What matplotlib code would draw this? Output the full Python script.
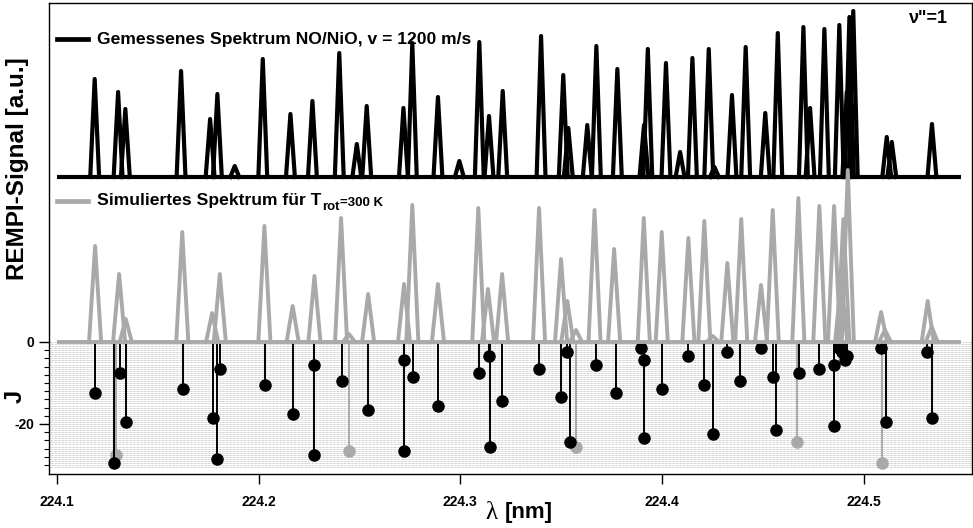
import numpy as np
import matplotlib.pyplot as plt

plt.rcParams.update({
    'font.family': ['Liberation Sans', 'DejaVu Sans'],
    'font.weight': 'bold',
    'axes.linewidth': 1.0,
})

# measured REMPI spectrum: peak positions (nm) and peak tops (a.u., baseline 1.65)
meas_base = 1.65
meas_pos = [224.1188, 224.1304, 224.1340, 224.1616, 224.1760, 224.1796, 224.1882,
            224.2021, 224.2158, 224.2267, 224.2400, 224.2487, 224.2536, 224.2718,
            224.2762, 224.2889, 224.2995, 224.3094, 224.3142, 224.3210, 224.3400,
            224.3510, 224.3535, 224.3629, 224.3674, 224.3778, 224.3910, 224.3929,
            224.4019, 224.4089, 224.4150, 224.4231, 224.4259, 224.4346, 224.4414,
            224.4511, 224.4573, 224.4700, 224.4733, 224.4804, 224.4878, 224.4915,
            224.4928, 224.4947, 224.5113, 224.5138, 224.5337]
meas_top = [2.63, 2.50, 2.33, 2.71, 2.23, 2.48, 1.76,
            2.83, 2.28, 2.41, 2.89, 1.98, 2.36, 2.34,
            2.99, 2.45, 1.81, 3.00, 2.26, 2.51, 3.06,
            2.67, 2.14, 2.17, 2.96, 2.73, 2.17, 2.93,
            2.79, 1.90, 2.84, 2.93, 1.75, 2.47, 2.95,
            2.29, 3.09, 3.15, 2.34, 3.13, 3.17, 2.50,
            3.25, 3.31, 2.05, 2.00, 2.18]

# simulated spectrum (T_rot = 300 K): peak positions (nm) and heights (a.u., baseline 0)
sim_pos = [224.1190, 224.1309, 224.1342, 224.1622, 224.1770, 224.1808, 224.2029,
           224.2169, 224.2277, 224.2409, 224.2448, 224.2543, 224.2721, 224.2762,
           224.2889, 224.3089, 224.3137, 224.3207, 224.3390, 224.3499, 224.3530,
           224.3573, 224.3665, 224.3762, 224.3909, 224.3998, 224.4130, 224.4209,
           224.4251, 224.4323, 224.4392, 224.4490, 224.4548, 224.4675, 224.4779,
           224.4852, 224.4887, 224.4898, 224.4920, 224.5085, 224.5104, 224.5316,
           224.5336]
sim_top = [0.96, 0.68, 0.23, 1.10, 0.29, 0.68, 1.16,
           0.36, 0.66, 1.24, 0.08, 0.48, 0.58, 1.37,
           0.58, 1.34, 0.53, 0.68, 1.34, 0.83, 0.41,
           0.12, 1.32, 0.93, 1.24, 1.10, 1.04, 1.21,
           0.06, 0.79, 1.23, 0.57, 1.32, 1.44, 1.36,
           1.36, 0.62, 1.23, 1.72, 0.30, 0.12, 0.41,
           0.15]

# rotational assignment: line position (nm), J'' and group (1 black, 2 grey)
j_pos = [224.1190, 224.1284, 224.1294, 224.1312, 224.1343, 224.1624, 224.1773,
         224.1794, 224.1808, 224.2032, 224.2172, 224.2275, 224.2275, 224.2412,
         224.2448, 224.2544, 224.2722, 224.2722, 224.2764, 224.2889, 224.3093,
         224.3141, 224.3149, 224.3208, 224.3391, 224.3499, 224.3530, 224.3545,
         224.3573, 224.3671, 224.3770, 224.3894, 224.3912, 224.3912, 224.4000,
         224.4130, 224.4209, 224.4252, 224.4323, 224.4388, 224.4490, 224.4550,
         224.4564, 224.4667, 224.4676, 224.4779, 224.4850, 224.4850, 224.4875,
         224.4890, 224.4905, 224.4915, 224.5083, 224.5088, 224.5108, 224.5314,
         224.5339]
j_val = [-12.5, -29.5, -27.5, -7.5, -19.5, -11.5, -18.5,
         -28.5, -6.5, -10.5, -17.5, -5.5, -27.5, -9.5,
         -26.5, -16.5, -4.5, -26.5, -8.5, -15.5, -7.5,
         -3.5, -25.5, -14.5, -6.5, -13.5, -2.5, -24.5,
         -25.5, -5.5, -12.5, -1.5, -4.5, -23.5, -11.5,
         -3.5, -10.5, -22.5, -2.5, -9.5, -1.5, -8.5,
         -21.5, -24.5, -7.5, -6.5, -5.5, -20.5, -1.5,
         -2.5, -4.5, -3.5, -1.5, -29.5, -19.5, -2.5,
         -18.5]
j_group = [1, 1, 2, 1, 1, 1, 1,
           1, 1, 1, 1, 1, 1, 1,
           2, 1, 1, 1, 1, 1, 1,
           1, 1, 1, 1, 1, 1, 1,
           2, 1, 1, 1, 1, 1, 1,
           1, 1, 1, 1, 1, 1, 1,
           1, 2, 1, 1, 1, 1, 1,
           1, 1, 1, 1, 2, 1, 1,
           1]

x_start, x_end = 224.1, 224.548
grey = '#a9a9a9'

fig = plt.figure(figsize=(9.73, 5.28), dpi=100)
ax1 = fig.add_axes([0.0504, 0.3523, 0.9486, 0.6420])
ax2 = fig.add_axes([0.0504, 0.1023, 0.9486, 0.2500])
ax1.set_zorder(2)
ax1.patch.set_visible(False)

# --- upper panel: spectra ---
hw_m, hw_s = 0.0022, 0.0030
ax1.plot([x_start, x_end], [meas_base, meas_base], color='black', lw=3.0,
         solid_capstyle='butt')
for p, t in zip(meas_pos, meas_top):
    ax1.plot([p - hw_m, p, p + hw_m], [meas_base, t, meas_base], color='black',
             lw=3.0, solid_joinstyle='round')
ax1.plot([x_start, x_end], [0, 0], color=grey, lw=2.8, clip_on=False,
         solid_capstyle='butt')
for p, t in zip(sim_pos, sim_top):
    ax1.plot([p - hw_s, p, p + hw_s], [0, t, 0], color=grey, lw=2.8,
             solid_joinstyle='round', clip_on=False)

ax1.set_xlim(224.09618, 224.55356)
ax1.set_ylim(0, 3.39)
ax1.set_xticks([])
ax1.set_yticks([])
ax1.spines['bottom'].set_visible(False)

# legend keys
ax1.plot([0.009, 0.042], [0.893, 0.893], transform=ax1.transAxes, color='black', lw=3.4)
ax1.text(0.052, 0.893, 'Gemessenes Spektrum NO/NiO, v = 1200 m/s', transform=ax1.transAxes,
         fontsize=12.6, va='center', ha='left')
ax1.plot([0.009, 0.042], [0.416, 0.416], transform=ax1.transAxes, color=grey, lw=3.4)
t1 = ax1.text(0.052, 0.416, 'Simuliertes Spektrum für T', transform=ax1.transAxes,
              fontsize=12.6, va='center', ha='left')
t2 = ax1.annotate('rot', xy=(1, 0), xycoords=t1, xytext=(0.5, -3),
                  textcoords='offset points', fontsize=9.5, va='bottom', ha='left')
ax1.annotate('=300 K', xy=(1, 0), xycoords=t2, xytext=(0, 2.5),
             textcoords='offset points', fontsize=9.5, va='bottom', ha='left')
ax1.text(0.932, 0.955, 'ν"=1', transform=ax1.transAxes, fontsize=13,
         va='center', ha='left')

# --- lower panel: J assignment ---
for yy in np.arange(0, -31.0, -0.5):
    ax2.axhline(yy, color='#a5a5a5', lw=0.5, ls=(0, (1, 1)), zorder=0)

for p, j, g in zip(j_pos, j_val, j_group):
    c = 'black' if g == 1 else grey
    z = 3 if g == 1 else 2
    ax2.plot([p, p], [0, j], color=c, lw=1.4, zorder=z)
    ax2.plot([p], [j], 'o', color=c, ms=8, zorder=z)

ax2.set_xlim(224.09618, 224.55356)
ax2.set_ylim(-32.2, 0)
ax2.spines['top'].set_visible(False)
ax2.set_xticks([224.1, 224.2, 224.3, 224.4, 224.5])
ax2.set_xticklabels(['224.1', '224.2', '224.3', '224.4', '224.5'])
ax2.set_yticks([0, -20])
ax2.set_yticklabels(['0', '-20'])
ax2.set_yticks(np.arange(0, -31, -2), minor=True)
ax2.tick_params(axis='both', which='major', direction='out', length=7, width=1.0,
                labelsize=10)
ax2.tick_params(axis='x', pad=8)
ax2.tick_params(axis='y', which='minor', direction='out', length=3.5, width=0.8)

fig.text(0.018, 0.68, 'REMPI-Signal [a.u.]', rotation=90, fontsize=17.5,
         ha='center', va='center')
fig.text(0.016, 0.25, 'J', rotation=90, fontsize=17, ha='center', va='center')
fig.text(0.499, 0.028, 'λ', family='Liberation Serif', fontweight='normal',
         fontsize=18, ha='left', va='center')
fig.text(0.519, 0.030, '[nm]', fontsize=16, ha='left', va='center')

plt.savefig('out.png', dpi=100)
